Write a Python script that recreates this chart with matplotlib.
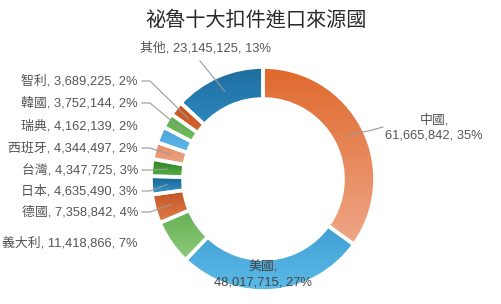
import numpy as np
import matplotlib.pyplot as plt
from matplotlib.colors import LinearSegmentedColormap

W, H = 502, 304

countries = ['中國', '美國', '義大利', '德國', '日本', '台灣', '西班牙', '瑞典', '韓國', '智利', '其他']
values = [61665842, 48017715, 11418866, 7358842, 4635490, 4347725, 4344497,
          4162139, 3752144, 3689225, 23145125]
percents = ['35%', '27%', '7%', '4%', '3%', '3%', '2%', '2%', '2%', '2%', '13%']

# gradient colours per slice (top, bottom)
tops = ['#df682c', '#2a8cc7', '#4a9e38', '#b6481b', '#13608e', '#2e7b21',
        '#e58d64', '#47a6df', '#59ad48', '#c9521e', '#1e6d9f']
bottoms = ['#efa788', '#5dbbe7', '#8ecb7c', '#e27d4b', '#3b9cd2', '#5cb74c',
           '#f1b393', '#7fc8ef', '#93d282', '#e47c4a', '#3ba2da']

# label layout in image pixels: (x, y, ha, elbow x or None, draw line)
layout = {
    '中國': (434, 128, 'center', 383, True),
    '美國': (263, 275, 'center', None, False),
    '義大利': (138, 243, 'right', None, False),
    '德國': (138, 212, 'right', 150, True),
    '日本': (138, 191, 'right', 150, True),
    '台灣': (138, 170, 'right', 150, True),
    '西班牙': (138, 148, 'right', 150, True),
    '瑞典': (138, 126, 'right', None, False),
    '韓國': (138, 103, 'right', 150, True),
    '智利': (138, 81, 'right', 150, True),
    '其他': (140, 48, 'left', 200, True),
}

fam = ['Liberation Sans', 'Noto Sans CJK TC']

fig = plt.figure(figsize=(W / 100, H / 100), dpi=100)
ax = fig.add_axes([0, 0, 1, 1])

cx, cy = 263, H - 179
R, ring = 112, 32
wedges, _ = ax.pie(values, startangle=90, counterclock=False, radius=R,
                   center=(cx, cy), frame=False,
                   wedgeprops=dict(width=ring, edgecolor='white', linewidth=2.6))
ax.set_xlim(0, W)
ax.set_ylim(0, H)
ax.set_aspect('auto')
ax.axis('off')

grad = np.linspace(0, 1, 256).reshape(-1, 1)
for w, top, bot in zip(wedges, tops, bottoms):
    w.set_facecolor('none')
    w.set_zorder(3)
    v = w.get_path().vertices
    cm = LinearSegmentedColormap.from_list('g', [bot, top])
    im = ax.imshow(grad, cmap=cm, origin='lower', aspect='auto', zorder=2,
                   extent=[v[:, 0].min(), v[:, 0].max(), v[:, 1].min(), v[:, 1].max()])
    im.set_clip_path(w)
ax.set_xlim(0, W)
ax.set_ylim(0, H)

rmid = R - ring / 2
for w, name, val, pct in zip(wedges, countries, values, percents):
    lx, ly, ha, elbow, line = layout[name]
    ang = np.deg2rad((w.theta1 + w.theta2) / 2)
    px, py = cx + rmid * np.cos(ang), cy + rmid * np.sin(ang)
    if name in ('中國', '美國'):
        txt = f'{name},\n{val:,}, {pct}'
    else:
        txt = f'{name}, {val:,}, {pct}'
    col = '#444444' if name == '美國' else '#555555'
    ax.text(lx, H - ly, txt, ha=ha, va='center', multialignment='center',
            fontsize=9.3, color=col, family=fam, linespacing=1.3, zorder=5)
    if line:
        if name == '中國':
            xs = [elbow, 372, px]
            ys = [H - 127, H - 130, py]
        elif name == '其他':
            xs = [elbow, px]
            ys = [H - 61, py]
        else:
            xs = [lx + 4, elbow, px]
            ys = [H - ly, H - ly, py]
        ax.plot(xs, ys, color='#9a9a9a', lw=0.8, zorder=4)

ax.text(256, H - 20, '祕魯十大扣件進口來源國', ha='center', va='center',
        fontsize=14.5, color='#2a2a2a', family=fam, fontweight='medium')

fig.savefig('out.png', dpi=100)
